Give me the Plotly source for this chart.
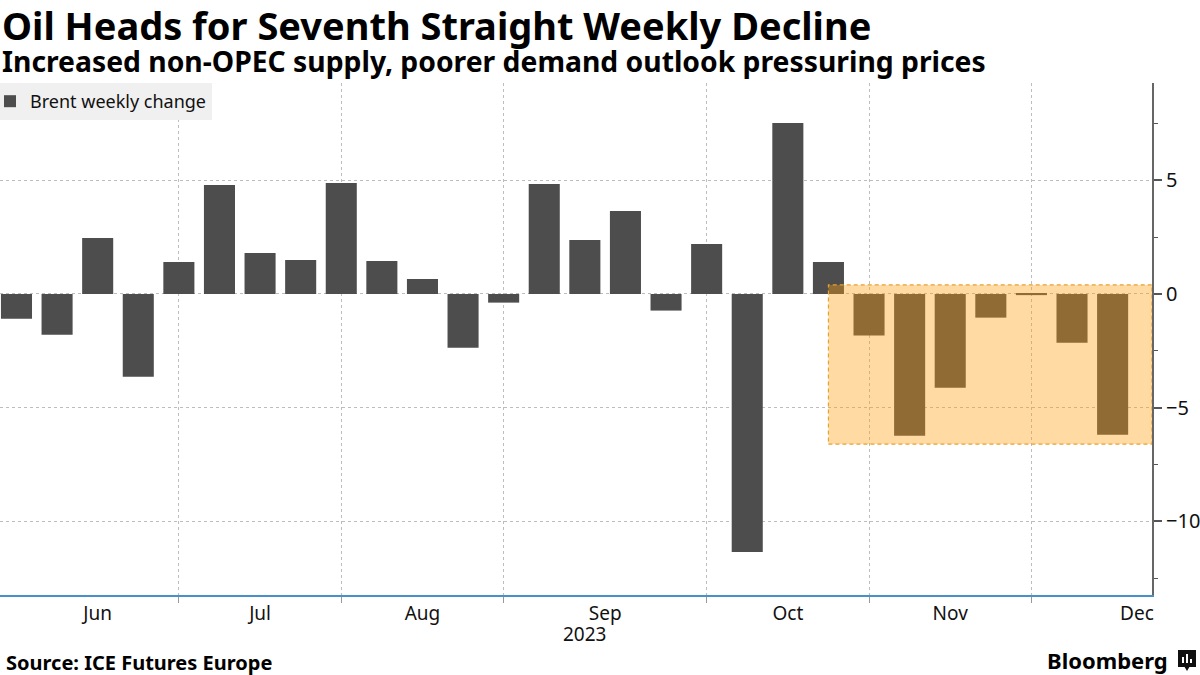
import plotly.graph_objects as go

# ---- data ----
week_ending = [
    "2023-06-02", "2023-06-09", "2023-06-16", "2023-06-23", "2023-06-30",
    "2023-07-07", "2023-07-14", "2023-07-21", "2023-07-28",
    "2023-08-04", "2023-08-11", "2023-08-18", "2023-08-25",
    "2023-09-01", "2023-09-08", "2023-09-15", "2023-09-22", "2023-09-29",
    "2023-10-06", "2023-10-13", "2023-10-20", "2023-10-27",
    "2023-11-03", "2023-11-10", "2023-11-17", "2023-11-24",
    "2023-12-01", "2023-12-08",
]
brent_weekly_change = [
    -1.09, -1.79, 2.46, -3.64, 1.41,
    4.79, 1.80, 1.50, 4.88,
    1.45, 0.66, -2.37, -0.38,
    4.84, 2.37, 3.65, -0.73, 2.20,
    -11.35, 7.52, 1.41, -1.83,
    -6.23, -4.12, -1.04, -0.05,
    -2.14, -6.19,
]
month_labels = ["Jun", "Jul", "Aug", "Sep", "Oct", "Nov", "Dec"]
month_label_pos = [2, 6, 10, 14.5, 19, 23, 27.6]
month_boundaries = [4, 8, 12, 17, 21, 25]
y_ticks = [-10, -5, 0, 5]
highlight_start = 20  # index where the decline streak box begins

x = list(range(len(week_ending)))

BAR = "#4d4d4d"
FONT = "Noto Sans"

fig = go.Figure()
fig.add_trace(go.Bar(
    x=x, y=brent_weekly_change, name="Brent weekly change",
    marker=dict(color=BAR, line=dict(width=0)),
    width=0.765, customdata=week_ending,
    hovertemplate="%{customdata}: %{y:.2f}<extra></extra>",
))

# highlight box (fill tint above bars, dashed border)
fig.add_shape(type="rect", xref="x", yref="y", x0=highlight_start, x1=27.97,
              y0=-6.6, y1=0.4, layer="above", fillcolor="rgb(255,158,10)",
              opacity=0.38, line=dict(width=0))
fig.add_shape(type="rect", xref="x", yref="y", x0=highlight_start, x1=27.97,
              y0=-6.6, y1=0.4, layer="above", fillcolor="rgba(0,0,0,0)",
              line=dict(color="#e8a030", width=1.2, dash="4px,3px"))

fig.update_layout(
    width=1200, height=675,
    margin=dict(l=0, r=48, t=83, b=80),
    paper_bgcolor="white", plot_bgcolor="white",
    font=dict(family=FONT, size=18, color="#111"),
    showlegend=True,
    legend=dict(x=0, y=1, xanchor="left", yanchor="top", bgcolor="#f0f0f0",
                font=dict(family=FONT, size=18, color="#111"),
                itemwidth=30, borderwidth=0, tracegroupgap=0,
                indentation=-10),
    bargap=0.2,
)

fig.update_xaxes(
    range=[-0.406, 27.97],
    tickmode="array", tickvals=month_label_pos, ticktext=month_labels,
    ticks="", showgrid=False, zeroline=False,
    showline=True, linecolor="#4a8fc7", linewidth=1.5,
    tickfont=dict(family=FONT, size=19, color="#111"),
    minor=dict(tickmode="array", tickvals=month_boundaries, showgrid=True,
               gridcolor="#bdbdbd", griddash="dot", gridwidth=1,
               ticks="outside", ticklen=6, tickcolor="#999", tickwidth=1),
    fixedrange=True,
)
fig.update_yaxes(
    side="right", range=[-13.24, 9.28],
    tickmode="array", tickvals=y_ticks,
    ticks="outside", ticklen=8, tickwidth=2, tickcolor="#555",
    showgrid=True, gridcolor="#bdbdbd", griddash="dot", gridwidth=1,
    zeroline=False, showline=True, linecolor="#666", linewidth=2,
    tickfont=dict(family=FONT, size=20, color="#111"),
    minor=dict(dtick=2.5, tick0=0, ticks="outside", ticklen=4,
               tickcolor="#555", tickwidth=1, showgrid=False),
    fixedrange=True,
)

# titles and footer
fig.add_annotation(text="<b>Oil Heads for Seventh Straight Weekly Decline</b>",
                   xref="paper", yref="paper", x=0, y=(595 - 25) / 512,
                   xanchor="left", yanchor="middle", showarrow=False,
                   font=dict(family=FONT, size=38, color="#000"))
fig.add_annotation(text="<b>Increased non-OPEC supply, poorer demand outlook pressuring prices</b>",
                   xref="paper", yref="paper", x=0, y=(595 - 61) / 512,
                   xanchor="left", yanchor="middle", showarrow=False,
                   font=dict(family=FONT, size=28.3, color="#000"))
fig.add_annotation(text="2023", xref="x", yref="paper", x=14, y=-(634 - 595) / 512,
                   xanchor="center", yanchor="middle", showarrow=False,
                   font=dict(family=FONT, size=19, color="#111"))
fig.add_annotation(text="<b>Source: ICE Futures Europe</b>", xref="paper", yref="paper",
                   x=4 / 1152, y=-(662 - 595) / 512, xanchor="left", yanchor="middle",
                   showarrow=False, font=dict(family=FONT, size=20, color="#000"))
fig.add_annotation(text="<b>Bloomberg</b>", xref="paper", yref="paper",
                   x=1170 / 1152, y=-(660 - 595) / 512, xanchor="right", yanchor="middle",
                   showarrow=False, font=dict(family=FONT, size=22, color="#000"))

# Bloomberg icon
def px(xp):
    return xp / 1152

def py(yp):
    return (595 - yp) / 512

fig.add_shape(type="rect", xref="paper", yref="paper", x0=px(1178), x1=px(1196),
              y0=py(667), y1=py(650), fillcolor="#111", line=dict(width=0), layer="above")
fig.add_shape(type="path", xref="paper", yref="paper",
              path=f"M {px(1184)} {py(666)} L {px(1187)} {py(671)} L {px(1190)} {py(666)} Z",
              fillcolor="#111", line=dict(width=0), layer="above")
for bx, top in [(1183, 657), (1187, 654), (1191, 659)]:
    fig.add_shape(type="line", xref="paper", yref="paper", x0=px(bx), x1=px(bx),
                  y0=py(663), y1=py(top), line=dict(color="white", width=2), layer="above")

fig.write_html("out.html", config={"displayModeBar": False},
               post_script="document.body.style.margin='0';document.body.style.overflow='hidden';")
